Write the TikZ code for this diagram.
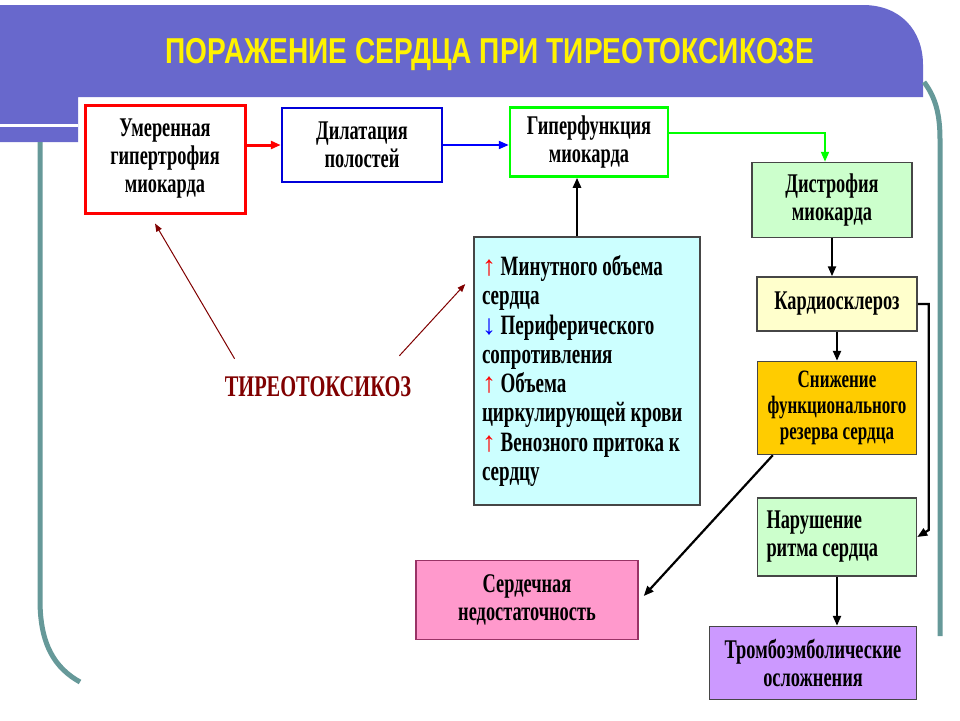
\documentclass[tikz,border=0pt]{standalone}
\usepackage{fontspec}
\setmainfont{Liberation Serif}
\newfontfamily\boxfont[FakeStretch=0.68]{Liberation Serif}
\newfontfamily\headfont[FakeStretch=0.78]{Liberation Sans}
\usetikzlibrary{arrows.meta,calc}
\definecolor{banner}{RGB}{104,104,204}
\definecolor{slideline}{RGB}{102,153,153}
\definecolor{boxedge}{RGB}{70,70,70}
\definecolor{pinkedge}{RGB}{153,51,102}
\definecolor{thyro}{RGB}{128,0,0}
\tikzset{
	box/.style={draw=boxedge, line width=1.5pt, align=center, inner sep=0pt, font=\boxfont\bfseries\fontsize{27}{28}\selectfont},
	arr/.style={-{Triangle[length=10pt,width=8pt]}, line width=2.2pt},
	thin arr/.style={-{Triangle[length=8pt,width=6pt]}, line width=1pt, color=thyro}
}

\begin{document}
\begin{tikzpicture}[x=1pt, y=-1pt]
			%%%%% START %%%%%
			\useasboundingbox[fill=white] (0, 0) rectangle (960, 720);
			
			\fill[banner] (0, 5) -- (863, 5) .. controls (900, 5) and (923, 30) .. (923, 65) -- (923, 97) -- (78, 97) -- (78, 142) -- (0, 142) -- cycle;
			\draw[white, line width=3pt] (0, 125) -- (78, 125);
			\draw[slideline, line width=5pt] (40, 142) -- (40, 600) .. controls (40, 645) and (55, 668) .. (80, 682);
			\draw[slideline, line width=5pt] (924, 82) .. controls (936, 98) and (940, 115) .. (940, 140) -- (940, 636);
			
			\node[text=yellow, font=\headfont\bfseries\fontsize{36}{38}\selectfont] (title) at (490, 55) {ПОРАЖЕНИЕ СЕРДЦА ПРИ ТИРЕОТОКСИКОЗЕ};
			
			\node[box, draw=red, line width=3pt, fill=white, minimum width=160pt, minimum height=108pt] (hyper) at (165, 159) {Умеренная\\гипертрофия\\миокарда};
			\node[box, draw=blue!85!black, line width=2.5pt, fill=white, minimum width=160pt, minimum height=74pt] (dilat) at (362, 145) {Дилатация\\полостей};
			\node[box, draw=green, line width=2.5pt, fill=white, minimum width=158pt, minimum height=69pt] (hyperf) at (589, 142) {Гиперфункция\\миокарда};
			
			\node[box, fill={rgb,255:red,204;green,255;blue,204}, minimum width=160pt, minimum height=75pt] (dystr) at (832, 200) {Дистрофия\\миокарда};
			\node[box, fill={rgb,255:red,255;green,255;blue,204}, minimum width=160pt, minimum height=54pt] (cardio) at (837, 304) {Кардиосклероз};
			\node[box, fill={rgb,255:red,255;green,204;blue,0}, minimum width=159pt, minimum height=93pt, font=\boxfont\bfseries\fontsize{25}{26}\selectfont] (reserve) at (837, 408) {Снижение\\функционального\\резерва сердца};
			\node[box, fill={rgb,255:red,204;green,255;blue,204}, align=flush left, text width=141pt, inner xsep=9pt, minimum height=78pt] (rhythm) at (837, 537) {Нарушение\\ритма сердца};
			\node[box, fill={rgb,255:red,204;green,153;blue,255}, minimum width=207pt, minimum height=73pt] (embol) at (813, 663) {Тромбоэмболические\\осложнения};
			\node[box, draw=pinkedge, fill={rgb,255:red,255;green,153;blue,204}, minimum width=222pt, minimum height=79pt] (failure) at (527, 600) {Сердечная\\недостаточность};
			
			\node[box, fill={rgb,255:red,204;green,255;blue,255}, align=flush left, text width=210pt, inner xsep=8pt, minimum height=268pt, font=\boxfont\bfseries\fontsize{28}{29.3}\selectfont] (shift) at (587, 371) {\textcolor{red}{\normalfont↑}\,Минутного объема\\сердца\\\textcolor{blue}{\normalfont↓}\,Периферического\\сопротивления\\\textcolor{red}{\normalfont↑}\,Объема\\циркулирующей крови\\\textcolor{red}{\normalfont↑}\,Венозного притока к\\сердцу};
			
			\node[text=thyro, inner sep=0pt, font=\boxfont\bfseries\fontsize{30}{32}\selectfont] (toxic) at (318, 387) {ТИРЕОТОКСИКОЗ};
			
			\draw[arr, red, line width=3pt] (hyper.east |- dilat.west) -- (dilat.west);
			\draw[arr, blue, line width=2pt] (dilat.east) -- (dilat.east -| hyperf.west);
			\coordinate (gturn) at (825, 133);
			\draw[arr, green, line width=2pt] (hyperf.east |- gturn) -- (gturn) -- (gturn |- dystr.north);
			\draw[arr, line width=2.8pt] ([xshift=-10pt]shift.north) -- ([xshift=-12pt]hyperf.south);
			
			\draw[arr] (dystr.south) -- (dystr.south |- cardio.north);
			\draw[arr] (cardio.south) -- (cardio.south |- reserve.north);
			\draw[arr] (cardio.east) -- ++(11, 0) -- ++(0, 226) -- (rhythm.east);
			\draw[arr] ([xshift=16pt]reserve.south west) -- ([xshift=5pt, yshift=4pt]failure.east);
			\draw[arr] (rhythm.south) -- (rhythm.south |- embol.north);
			
			\draw[thin arr] ([shift={(10, -18)}]toxic.north west) -- ([shift={(-10, 9)}]hyper.south);
			\draw[thin arr] ([shift={(-12, -21)}]toxic.north east) -- ([shift={(-8, -87)}]shift.west);
			
			%%%%% END %%%%%
\end{tikzpicture}
\end{document}
